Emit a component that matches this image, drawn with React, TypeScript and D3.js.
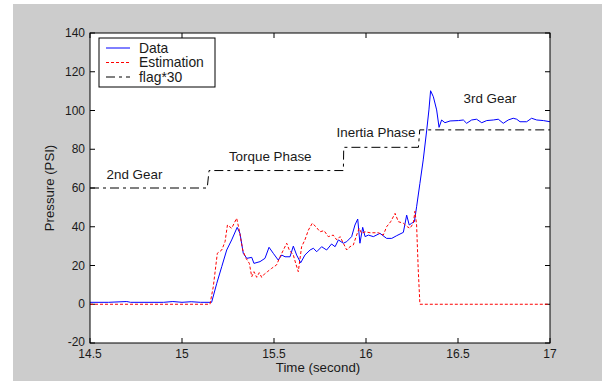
import React from "react";
import * as d3 from "d3";

const dataT = [14.5, 14.6, 14.7, 14.72, 14.75, 14.9, 14.95, 15.0, 15.05, 15.1, 15.161, 15.189, 15.216, 15.243, 15.27, 15.3, 15.315, 15.333, 15.352, 15.379, 15.391, 15.424, 15.451, 15.473, 15.496, 15.523, 15.542, 15.56, 15.587, 15.605, 15.623, 15.645, 15.668, 15.696, 15.714, 15.732, 15.759, 15.786, 15.813, 15.832, 15.85, 15.877, 15.895, 15.922, 15.94, 15.955, 15.967, 15.982, 15.995, 16.013, 16.04, 16.076, 16.112, 16.14, 16.167, 16.203, 16.221, 16.235, 16.248, 16.263, 16.275, 16.293, 16.311, 16.33, 16.342, 16.351, 16.366, 16.384, 16.397, 16.411, 16.429, 16.457, 16.502, 16.529, 16.547, 16.574, 16.601, 16.629, 16.656, 16.692, 16.719, 16.746, 16.773, 16.8, 16.819, 16.837, 16.873, 16.9, 16.928, 16.964, 17.0];
const dataV = [1.0, 1.0, 1.4, 1.0, 1.0, 1.0, 1.4, 1.0, 1.3, 1.0, 1.0, 10.8, 19.4, 28, 33.2, 39.7, 36.6, 26.3, 23.7, 24.2, 21.1, 22, 23.7, 29.4, 26.3, 22.8, 25.4, 24.5, 24.5, 30, 25.4, 21.4, 25.4, 28, 28.9, 27.1, 29.7, 28, 31.1, 29.7, 33.2, 31.5, 32.3, 34.9, 40.9, 44, 31.5, 39.7, 34.9, 35.7, 34.9, 36.6, 34, 34, 35.4, 37.1, 46, 40.9, 41.8, 42.6, 50.3, 62.4, 74.5, 89.9, 100.3, 110.2, 107.1, 100.3, 91.3, 95.1, 93.7, 94.6, 94.8, 95.1, 93.4, 95.1, 95.5, 93.7, 94.8, 95.1, 95.5, 93.4, 95.1, 96, 95.5, 94.2, 94.2, 96, 95.1, 94.8, 94.2];

const estT = [14.5, 15.152, 15.17, 15.192, 15.216, 15.234, 15.247, 15.27, 15.297, 15.311, 15.33, 15.348, 15.366, 15.379, 15.391, 15.406, 15.42, 15.433, 15.451, 15.464, 15.487, 15.514, 15.533, 15.551, 15.569, 15.583, 15.605, 15.618, 15.632, 15.65, 15.668, 15.687, 15.708, 15.728, 15.75, 15.772, 15.795, 15.822, 15.841, 15.859, 15.877, 15.895, 15.913, 15.931, 15.949, 15.963, 15.976, 15.995, 16.022, 16.067, 16.094, 16.112, 16.134, 16.158, 16.176, 16.203, 16.225, 16.239, 16.257, 16.266, 16.275, 16.284, 16.293, 17.0];
const estV = [0, 0, 9, 26.3, 28, 32.3, 40.9, 39.2, 44.4, 38.3, 28, 23.7, 21.1, 14.2, 16.8, 13.9, 16.3, 13.9, 15.9, 16.8, 18.5, 20.3, 24.5, 28, 31.5, 28, 25.4, 21.1, 16.8, 29.7, 33.2, 38.3, 41.8, 40, 37.4, 38, 34.9, 35.7, 33.2, 34.9, 31.5, 28, 29.7, 30.6, 35.7, 39.2, 36.6, 37.4, 36.9, 36.9, 35.7, 40, 42.6, 46.9, 42.6, 41.8, 40, 39.2, 41.8, 48, 40.9, 17.7, 0, 0];

const flagT = [14.5, 15.137, 15.147, 15.877, 15.879, 16.285, 16.292, 17.0];
const flagV = [60, 60, 69, 69, 81, 81, 90, 90];

const xTicks = [14.5, 15, 15.5, 16, 16.5, 17];
const yTicks = [-20, 0, 20, 40, 60, 80, 100, 120, 140];

const annotations = [
  { label: "2nd Gear", t: 14.59, v: 64.5 },
  { label: "Torque Phase", t: 15.255, v: 74 },
  { label: "Inertia Phase", t: 15.84, v: 86.5 },
  { label: "3rd Gear", t: 16.53, v: 104 },
];

const legendItems = [
  { label: "Data", color: "#0000ff", dash: "none" },
  { label: "Estimation", color: "#ff0000", dash: "3,2" },
  { label: "flag*30", color: "#000000", dash: "9,4,3,4" },
];

export default function App() {
  const W = 602, H = 381;
  const L = 90, R = 550, T = 33, B = 343;
  const x = d3.scaleLinear().domain([14.5, 17]).range([L, R]);
  const y = d3.scaleLinear().domain([-20, 140]).range([B, T]);
  const line = d3.line<[number, number]>().x(d => x(d[0])).y(d => y(d[1]));
  const dataPath = line(dataT.map((t, i) => [t, dataV[i]]));
  const estPath = line(estT.map((t, i) => [t, estV[i]]));
  const flagPath = line(flagT.map((t, i) => [t, flagV[i]]));
  const font = "'Liberation Sans', Arial, sans-serif";
  const tl = 5;
  const textFill = "#1a1a1a";
  return (
    <svg width={W} height={H} style={{ position: "absolute", left: 0, top: 0, display: "block" }} fontFamily={font}>
      <rect x={0} y={0} width={W} height={H} fill="#ffffff" />
      <rect x={13} y={4} width={W - 13} height={H - 4} fill="#cccccc" />
      <rect x={L} y={T} width={R - L} height={B - T} fill="#ffffff" />
      <defs>
        <clipPath id="plotclip">
          <rect x={L} y={T} width={R - L} height={B - T} />
        </clipPath>
      </defs>
      {xTicks.map(t => (
        <g key={"x" + t}>
          <line x1={x(t)} x2={x(t)} y1={B} y2={B - tl} stroke="#000" />
          <line x1={x(t)} x2={x(t)} y1={T} y2={T + tl} stroke="#000" />
          <text x={x(t)} y={358} textAnchor="middle" fontSize={12} fill={textFill}>{t}</text>
        </g>
      ))}
      {yTicks.map(v => (
        <g key={"y" + v}>
          <line x1={L} x2={L + tl} y1={y(v)} y2={y(v)} stroke="#000" />
          <line x1={R} x2={R - tl} y1={y(v)} y2={y(v)} stroke="#000" />
          <text x={85} y={y(v) + (v === -20 ? 3 : 4)} textAnchor="end" fontSize={12} fill={textFill}>{v}</text>
        </g>
      ))}
      <g clipPath="url(#plotclip)">
        <path d={flagPath || ""} fill="none" stroke="#000" strokeWidth={1} strokeDasharray="9,4,3,4" />
        <path d={dataPath || ""} fill="none" stroke="#0000ff" strokeWidth={1} />
        <path d={estPath || ""} fill="none" stroke="#ff0000" strokeWidth={1} strokeDasharray="3,2" />
      </g>
      {annotations.map(a => (
        <text key={a.label} x={x(a.t)} y={y(a.v)} fontSize={13.4} fill={textFill}>{a.label}</text>
      ))}
      <rect x={L} y={T} width={R - L} height={B - T} fill="none" stroke="#000" strokeWidth={1} />
      <g>
        <rect x={99} y={38} width={116} height={49} fill="#ffffff" stroke="#000" strokeWidth={1} />
        {legendItems.map((it, i) => (
          <g key={it.label}>
            <line x1={106} x2={130} y1={48 + i * 14.5} y2={48 + i * 14.5} stroke={it.color} strokeWidth={1} strokeDasharray={it.dash} />
            <text x={139} y={48 + i * 14.5 + 4.8} fontSize={13.9} fill={textFill}>{it.label}</text>
          </g>
        ))}
      </g>
      <text x={318} y={372} textAnchor="middle" fontSize={13.3} fill={textFill}>Time (second)</text>
      <text transform={`translate(54,188) rotate(-90)`} textAnchor="middle" fontSize={13.2} fill={textFill}>Pressure (PSI)</text>
    </svg>
  );
}
